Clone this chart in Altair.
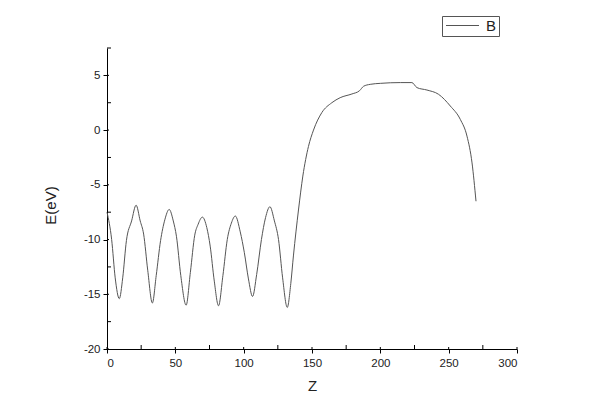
import altair as alt
import pandas as pd

# Curve B: Z vs E(eV)
z_vals = [0, 3.4, 6.0, 9.0, 11.5, 14.2, 18.0, 21.3, 24.3, 26.8, 29.8, 33.2,
          36.0, 39.2, 42.3, 45.5, 48.5, 50.8, 54.0, 57.9, 61.0, 64.2, 66.7,
          69.8, 73.0, 75.5, 78.5, 81.6, 84.8, 88.0, 91.0, 93.9, 97.5, 100.5,
          103.5, 106.5, 109.5, 113.0, 116.0, 119.2, 122.5, 125.5, 128.5,
          131.9, 134.5, 136.4, 140.1, 143.3, 147.4, 151.1, 157.2, 164.5,
          170.6, 179.2, 184.8, 187.7, 192.6, 200.0, 214.6, 223.1, 226.8,
          234.1, 242.6, 251.2, 258.5, 263.4, 267.1, 270.0]
e_vals = [-7.5, -10.0, -13.5, -15.4, -13.5, -10.1, -8.3, -6.86, -8.3, -9.5,
          -12.8, -15.8, -13.3, -10.1, -8.2, -7.25, -8.3, -9.7, -13.3, -16.0,
          -13.0, -9.6, -8.6, -7.95, -8.9, -10.6, -13.8, -16.05, -13.3, -10.0,
          -8.5, -7.85, -9.3, -11.2, -13.6, -15.2, -13.2, -10.0, -8.0, -7.0,
          -8.3, -10.0, -13.5, -16.2, -14.0, -11.5, -7.3, -4.2, -1.5, 0.0, 1.6,
          2.5, 2.96, 3.3, 3.6, 4.0, 4.18, 4.27, 4.34, 4.34, 3.88, 3.66, 3.27,
          2.2, 0.98, -0.55, -3.0, -6.5]
series_name = ["B"]

x_major = [0, 50, 100, 150, 200, 250, 300]
x_minor = [25, 75, 125, 175, 225, 275]
y_major = [-20, -15, -10, -5, 0, 5]
y_minor = [-17.5, -12.5, -7.5, -2.5, 2.5, 7.5]

df = pd.DataFrame({"Z": z_vals, "E": e_vals, "s": series_name * len(z_vals)})

FONT = "Liberation Sans"
LINE = "#555555"

xs = alt.Scale(domain=[0, 300], nice=False, zero=False)
ys = alt.Scale(domain=[-20, 7.5], nice=False, zero=False)

xaxis = alt.Axis(values=x_major, tickSize=4, labelPadding=4, grid=False,
                 labelExpr="'' + datum.value", titlePadding=10,
                 titleFontSize=15, titleFontWeight="normal")
yaxis = alt.Axis(values=y_major, tickSize=4, labelPadding=3, grid=False,
                 labelExpr="'' + datum.value", titleFontSize=15,
                 titleFontWeight="normal",
                 titleX=-57, titleY=157, titleBaseline="middle",
                 titleAlign="center")

line = alt.Chart(df).mark_line(strokeWidth=1, interpolate="monotone").encode(
    x=alt.X("Z:Q", scale=xs, title="Z", axis=xaxis),
    y=alt.Y("E:Q", scale=ys, title="E(eV)", axis=yaxis),
    color=alt.Color("s:N", scale=alt.Scale(range=[LINE]),
                    legend=alt.Legend(title=None, orient="none",
                                      legendX=335, legendY=-32,
                                      symbolType="M-3,0H3", symbolSize=121,
                                      symbolStrokeWidth=1, symbolOffset=11,
                                      labelOffset=16, labelFontSize=15,
                                      padding=2, strokeColor="#555",
                                      fillColor="white")),
)

xmin_df = pd.DataFrame({"t": x_minor})
xmaj_df = pd.DataFrame({"t": x_major})
ymin_df = pd.DataFrame({"t": y_minor})
ymaj_df = pd.DataFrame({"t": y_major})

x_minor_ticks = alt.Chart(xmin_df).mark_rule(color="black", y2Offset=-4).encode(
    x=alt.X("t:Q", scale=xs, title="Z", axis=xaxis),
    y=alt.Y(datum=-20, scale=ys, title="E(eV)", axis=yaxis), y2=alt.datum(-20))
x_major_in = alt.Chart(xmaj_df).mark_rule(color="black", y2Offset=-2).encode(
    x=alt.X("t:Q", scale=xs, title="Z", axis=xaxis),
    y=alt.Y(datum=-20, scale=ys, title="E(eV)", axis=yaxis), y2=alt.datum(-20))
y_minor_ticks = alt.Chart(ymin_df).mark_rule(color="black", x2Offset=4).encode(
    y=alt.Y("t:Q", scale=ys, title="E(eV)", axis=yaxis),
    x=alt.X(datum=0, scale=xs, title="Z", axis=xaxis), x2=alt.datum(0))
y_major_in = alt.Chart(ymaj_df).mark_rule(color="black", x2Offset=2).encode(
    y=alt.Y("t:Q", scale=ys, title="E(eV)", axis=yaxis),
    x=alt.X(datum=0, scale=xs, title="Z", axis=xaxis), x2=alt.datum(0))

chart = alt.layer(line, x_minor_ticks, x_major_in, y_minor_ticks, y_major_in).properties(
    width=410, height=301,
    background="white",
    autosize=alt.AutoSizeParams(type="none"),
    padding={"left": 99, "top": 40, "right": 75, "bottom": 62},
).configure_view(stroke=None).configure_axis(
    grid=False, domainColor="black", tickColor="black", labelColor="#222",
    titleColor="#222", labelFont=FONT, titleFont=FONT, labelFontSize=11.5,
    titleFontWeight="normal", domainWidth=1, tickWidth=1,
).configure_legend(labelFont=FONT, labelColor="#222")

chart.save("out.html", embed_options={"renderer": "svg", "actions": False})
